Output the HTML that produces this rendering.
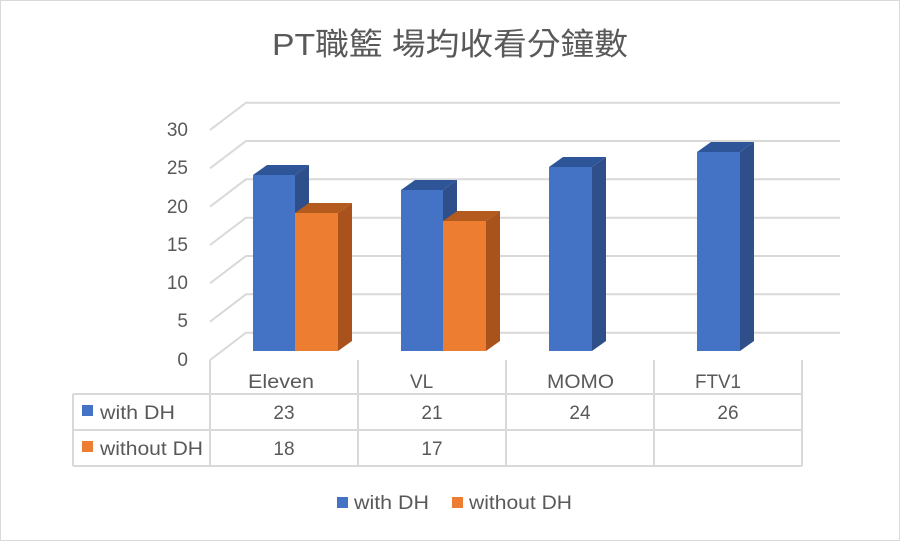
<!DOCTYPE html>
<html><head><meta charset="utf-8"><style>
html,body{margin:0;padding:0;background:#fff}
svg{display:block}
text{font-family:"Liberation Sans","Noto Sans CJK TC",sans-serif;fill:#595959}
</style></head><body>
<svg width="900" height="541" viewBox="0 0 900 541" xmlns="http://www.w3.org/2000/svg">
<rect x="0.5" y="0.5" width="899" height="540" fill="#fff" stroke="#d9d9d9"/>
<text x="272" y="55" font-size="31" textLength="356" lengthAdjust="spacingAndGlyphs">PT職籃 場均收看分鐘數</text>
<g stroke="#d9d9d9" stroke-width="2" fill="none">
<polyline points="210,130 246,102.7 840,102.7"/>
<polyline points="210,168.3 246,141 840,141"/>
<polyline points="210,206.7 246,179.3 840,179.3"/>
<polyline points="210,245 246,217.7 840,217.7"/>
<polyline points="210,283.3 246,256 840,256"/>
<polyline points="210,321.7 246,294.3 840,294.3"/>
<polyline points="210,360 246,332.7 840,332.7"/>
</g>
<g font-size="19" text-anchor="end">
<text x="188" y="136">30</text><text x="188" y="174">25</text><text x="188" y="213">20</text>
<text x="188" y="251">15</text><text x="188" y="289">10</text><text x="188" y="327">5</text><text x="188" y="366">0</text>
</g>
<g>
<polygon points="295,175 309,165 309,341 295,351" fill="#2f4f8a"/>
<polygon points="253,175 267,165 309,165 295,175" fill="#2e5597"/>
<rect x="253" y="175" width="42" height="176" fill="#4472c4"/>
<polygon points="338,213 352,203 352,341 338,351" fill="#a9521b"/>
<polygon points="295,213 309,203 352,203 338,213" fill="#b35a1e"/>
<rect x="295" y="213" width="43" height="138" fill="#ed7d31"/>
<polygon points="443,190 457,180 457,341 443,351" fill="#2f4f8a"/>
<polygon points="401,190 415,180 457,180 443,190" fill="#2e5597"/>
<rect x="401" y="190" width="42" height="161" fill="#4472c4"/>
<polygon points="486,221 500,211 500,341 486,351" fill="#a9521b"/>
<polygon points="443,221 457,211 500,211 486,221" fill="#b35a1e"/>
<rect x="443" y="221" width="43" height="130" fill="#ed7d31"/>
<polygon points="592,167 606,157 606,341 592,351" fill="#2f4f8a"/>
<polygon points="549,167 563,157 606,157 592,167" fill="#2e5597"/>
<rect x="549" y="167" width="43" height="184" fill="#4472c4"/>
<polygon points="740,152 754,142 754,341 740,351" fill="#2f4f8a"/>
<polygon points="697,152 711,142 754,142 740,152" fill="#2e5597"/>
<rect x="697" y="152" width="43" height="199" fill="#4472c4"/>
</g>
<g stroke="#d9d9d9" stroke-width="2" fill="none">
<line x1="210" y1="360" x2="210" y2="466"/>
<line x1="358" y1="360" x2="358" y2="466"/>
<line x1="506" y1="360" x2="506" y2="466"/>
<line x1="654" y1="360" x2="654" y2="466"/>
<line x1="802" y1="360" x2="802" y2="466"/>
<line x1="73" y1="394" x2="802" y2="394"/>
<line x1="73" y1="430" x2="802" y2="430"/>
<line x1="73" y1="466" x2="802" y2="466"/>
<line x1="73" y1="394" x2="73" y2="466"/>
</g>
<g font-size="19">
<text x="248" y="388" textLength="66" lengthAdjust="spacingAndGlyphs">Eleven</text>
<text x="410" y="388">VL</text>
<text x="547" y="388" textLength="67" lengthAdjust="spacingAndGlyphs">MOMO</text>
<text x="695" y="388" textLength="46" lengthAdjust="spacingAndGlyphs">FTV1</text>
</g>
<g font-size="19" text-anchor="middle">
<text x="284" y="419">23</text><text x="432" y="419">21</text><text x="580" y="419">24</text><text x="728" y="419">26</text>
<text x="284" y="455">18</text><text x="432" y="455">17</text>
</g>
<rect x="82" y="405" width="11" height="11" fill="#4472c4"/>
<text x="100" y="419" font-size="19" textLength="75" lengthAdjust="spacingAndGlyphs">with DH</text>
<rect x="82" y="441" width="11" height="11" fill="#ed7d31"/>
<text x="100" y="455" font-size="19" textLength="103" lengthAdjust="spacingAndGlyphs">without DH</text>
<rect x="337" y="497" width="11" height="11" fill="#4472c4"/>
<text x="354" y="509" font-size="19" textLength="75" lengthAdjust="spacingAndGlyphs">with DH</text>
<rect x="452" y="497" width="11" height="11" fill="#ed7d31"/>
<text x="469" y="509" font-size="19" textLength="103" lengthAdjust="spacingAndGlyphs">without DH</text>
</svg>
</body></html>
